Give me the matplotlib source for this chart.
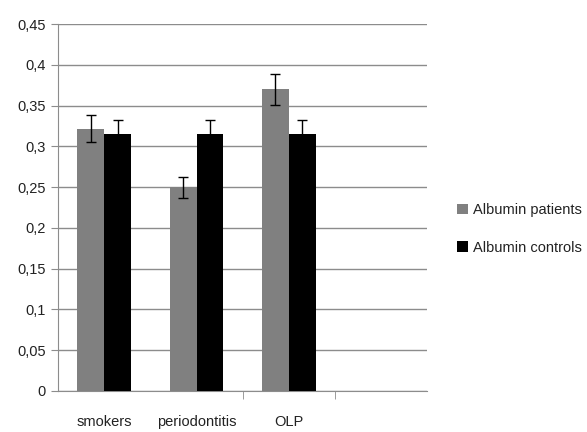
import numpy as np
import matplotlib.pyplot as plt
from matplotlib.ticker import FuncFormatter

categories = ["smokers", "periodontitis", "OLP", ""]
patients = [0.322, 0.250, 0.370]
patients_err = [0.016, 0.013, 0.019]
controls = [0.315, 0.315, 0.315]
controls_err = [0.017, 0.017, 0.017]
yticks = [0, 0.05, 0.1, 0.15, 0.2, 0.25, 0.3, 0.35, 0.4, 0.45]

plt.rcParams['font.family'] = ['Liberation Sans', 'DejaVu Sans']

fig = plt.figure(figsize=(5.87, 4.32), dpi=100)
ax = fig.add_axes([0.099, 0.095, 0.629, 0.849])

x = np.arange(len(patients))
w = 0.29
ax.bar(x - w / 2, patients, w, color='#808080', label='Albumin patients', zorder=3,
       yerr=patients_err, error_kw=dict(ecolor='black', capsize=3.5, elinewidth=1, capthick=1))
ax.bar(x + w / 2, controls, w, color='black', label='Albumin controls', zorder=3,
       yerr=controls_err, error_kw=dict(ecolor='black', capsize=3.5, elinewidth=1, capthick=1))

ax.set_xlim(-0.5, len(categories) - 0.5)
ax.set_ylim(0, 0.45)
ax.set_yticks(yticks)
ax.yaxis.set_major_formatter(FuncFormatter(lambda v, p: ('%g' % v).replace('.', ',')))
ax.yaxis.grid(True, color='#8c8c8c', lw=1, zorder=0)

ax.set_xticks(np.arange(len(categories)))
ax.set_xticklabels(categories, fontsize=10.5, color='#222222')
ax.tick_params(axis='x', length=0, pad=17)
ax.set_xticks([1.5, 2.5], minor=True)
ax.tick_params(axis='x', which='minor', length=6, color='#8c8c8c')
ax.tick_params(axis='y', length=5, color='#8c8c8c', labelsize=10.5, labelcolor='#222222', pad=4)

for s in ['top', 'right']:
    ax.spines[s].set_visible(False)
for s in ['left', 'bottom']:
    ax.spines[s].set_color('#8c8c8c')

fig.legend(loc='center left', bbox_to_anchor=(0.757, 0.47), frameon=False,
           handlelength=0.7, handleheight=0.7, handletextpad=0.35, labelspacing=1.6,
           fontsize=10.5, labelcolor='#222222')

fig.savefig('out.png', dpi=100)
